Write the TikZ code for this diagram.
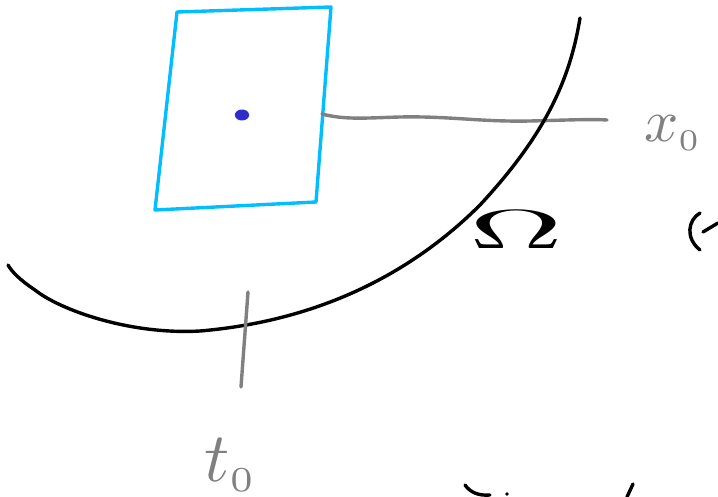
\documentclass[tikz,border=0pt]{standalone}
\usepackage{amsmath}
\definecolor{skyblue}{RGB}{0,190,255}
\definecolor{dotblue}{RGB}{45,45,200}
\definecolor{pengray}{RGB}{128,128,128}
\begin{document}
\begin{tikzpicture}[x=1pt,y=-1pt,line cap=round,line join=round,
  inkblack/.style={draw=black,line width=3.4pt},
  inkgray/.style={draw=pengray,line width=3.4pt},
  inkblue/.style={draw=skyblue,line width=3.4pt},
  labelgray/.style={text=pengray,inner sep=0pt},
]
\useasboundingbox (0,0) rectangle (718,497);
% blue rectangle
\coordinate (r1) at (177,12);
\coordinate (r2) at (331,7);
\coordinate (r3) at (316,202);
\coordinate (r4) at (155,210);
\draw[inkblue] (r1) -- (r2) -- (r3) -- (r4) -- cycle;
% dot
\node[fill=dotblue,circle,inner sep=0pt,draw=none,
      minimum size=11pt,xscale=1.3,rotate=30] (dot) at (242,115) {};
% gray horizontal line
\coordinate (h0) at (322,114);
\coordinate (h1) at (607,120);
\draw[inkgray] (h0) .. controls (345,120) and (365,118) .. (400,117)
  .. controls (450,116) and (480,122) .. (530,121) .. controls (570,120) and (590,119) .. (h1);
% black arc
\coordinate (a0) at (580,18);
\coordinate (a1) at (8,265);
\draw[inkblack] (a0) .. controls (570,80) and (545,135) .. (480,205)
  .. controls (420,265) and (330,320) .. (200,331)
  .. controls (130,335) and (60,310) .. (35,290)
  .. controls (20,280) and (12,272) .. (a1);
% gray vertical line
\coordinate (v0) at (248,292);
\coordinate (v1) at (241,387);
\draw[inkgray] (v0) -- (v1);
% labels
\node[labelgray,anchor=base west,scale=6] (x0) at (643,142) {$x_{\scriptscriptstyle 0}$};
\node[labelgray,anchor=base west,scale=7] (t0) at (203,481) {$t_{\scriptscriptstyle 0}$};
\node[inner sep=0pt,anchor=base,xscale=13,yscale=5.5] (om) at (516,249) {$\Omega$};
% partial strokes at edges
\draw[inkblack] (700,213) .. controls (688,220) and (685,238) .. (700,250);
\draw[inkblack] (703,232) -- (718,223);
\draw[inkblack] (465,485) .. controls (470,492) and (478,496) .. (490,495);
\fill (507,494) circle (1.8pt);
\draw[inkblack] (633,484) -- (627,497);
\end{tikzpicture}
\end{document}
